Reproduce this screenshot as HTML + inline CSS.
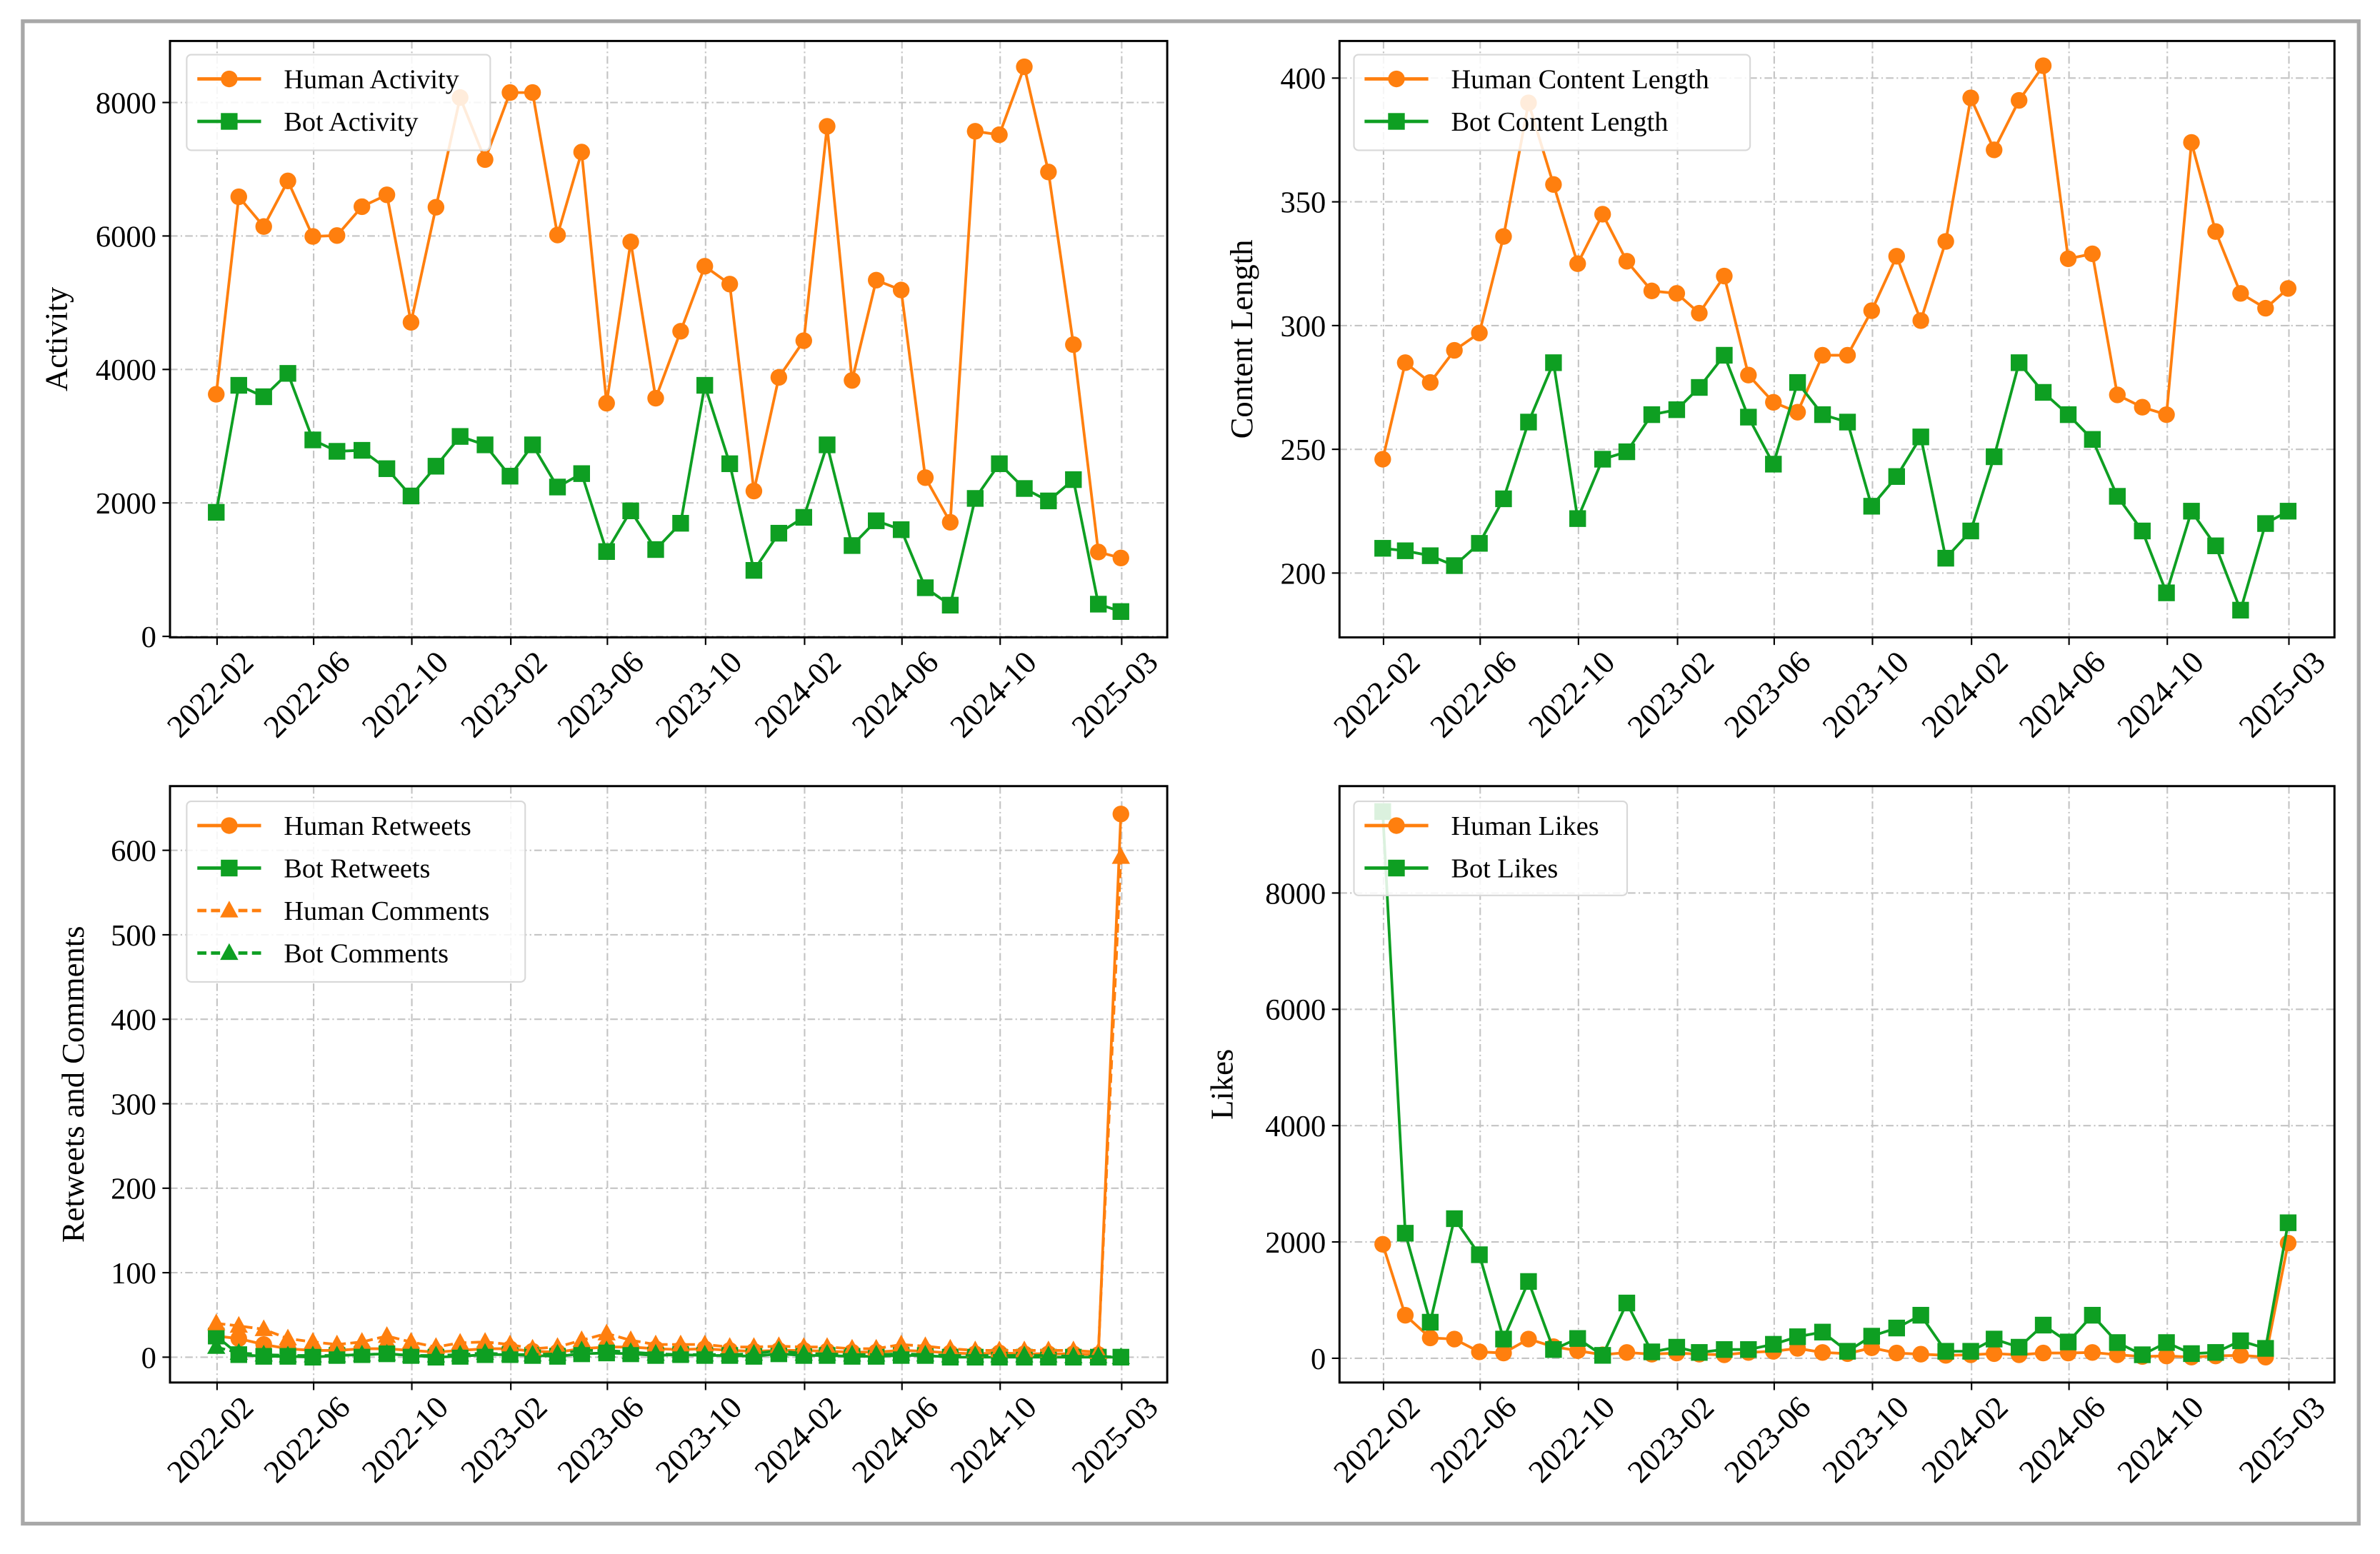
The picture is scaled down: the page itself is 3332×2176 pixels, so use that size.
<!DOCTYPE html>
<html><head><meta charset="utf-8"><style>
html,body{margin:0;padding:0;background:#fff;}
svg{display:block;font-family:"Liberation Serif",serif;}
</style></head><body>
<svg id="fig" width="3332" height="2176" viewBox="0 0 1568 1024" xmlns="http://www.w3.org/2000/svg">
<rect x="0" y="0" width="1568" height="1024" fill="#fff"/>
<rect x="15" y="14" width="1539" height="990" fill="none" stroke="#a8a8a8" stroke-width="2.5"/>
</svg>
<script>
const tickLabels=["2022-02","2022-06","2022-10","2023-02","2023-06","2023-10","2024-02","2024-06","2024-10","2025-03"];
const humanActivity=[3628,6587,6141,6825,5993,6007,6439,6617,4706,6431,8074,7145,8149,8149,6015,7257,3494,5911,3569,4572,5546,5279,2178,3881,4431,7643,3836,5338,5190,2379,1710,7569,7517,8535,6959,4372,1264,1175];
const botActivity=[1859,3762,3591,3941,2944,2773,2788,2513,2104,2550,2996,2870,2401,2870,2238,2439,1271,1881,1301,1695,3762,2587,989,1546,1784,2870,1361,1732,1599,729,468,2067,2587,2216,2030,2349,483,372];
const humanContent=[246,285,277,290,297,336,390,357,325,345,326,314,313,305,320,280,269,265,288,288,306,328,302,334,392,371,391,405,327,329,272,267,264,374,338,313,307,315];
const botContent=[210,209,207,203,212,230,261,285,222,246,249,264,266,275,288,263,244,277,264,261,227,239,255,206,217,247,285,273,264,254,231,217,192,225,211,185,220,225];
const humanRetweets=[25,22,15,10,8,8,10,10,8,6,8,10,10,7,6,10,12,12,10,9,10,8,7,8,8,7,6,6,8,7,5,4,5,4,4,4,3,643];
const botRetweets=[25,3,1,1,0,2,3,4,2,0,1,3,3,2,1,4,5,4,2,3,2,2,1,4,2,2,1,1,2,2,0,0,0,0,0,0,0,0];
const humanComments=[40,37,33,22,18,15,18,25,18,12,17,18,15,10,12,20,28,20,15,15,15,12,12,13,12,12,10,10,15,13,10,8,8,8,8,8,6,592];
const botComments=[12,5,3,2,2,2,3,4,2,2,3,5,3,3,4,8,8,6,4,3,3,3,4,8,4,4,3,3,4,3,2,2,2,2,2,1,1,0];
const humanLikes=[1960,740,350,330,110,90,330,200,130,60,100,70,90,70,60,100,120,170,100,80,180,90,70,50,60,80,60,90,90,100,60,30,40,20,40,50,20,1980];
const botLikes=[9400,2150,620,2400,1780,330,1320,150,340,50,950,110,190,100,150,150,240,370,450,120,380,520,740,120,120,330,190,570,280,740,270,60,270,80,100,300,170,2330];

const NS="http://www.w3.org/2000/svg";
const svg=document.getElementById('fig');
const OR="#ff7f0e", GR="#0e9f22";
function el(tag,attrs,parent){const e=document.createElementNS(NS,tag);for(const k in attrs)e.setAttribute(k,attrs[k]);(parent||svg).appendChild(e);return e;}
const D0=Date.UTC(2022,1,1), D1=Date.UTC(2025,2,1);
function tickDate(lbl){const [y,m]=lbl.split('-').map(Number);return Date.UTC(y,m-1,1);}
function pointDate(i){return Date.UTC(2022,1+i,0);}

function panel(cfg){
  const g=el('g',{});
  
  
  const xs=t=>cfg.tx0+(t-D0)/(D1-D0)*(cfg.tx1-cfg.tx0);
  const ys=v=>cfg.y1-(v-cfg.ymin)/(cfg.ymax-cfg.ymin)*(cfg.y1-cfg.y0);
  tickLabels.forEach(l=>{const x=xs(tickDate(l));
    const gl=el('line',{x1:x,x2:x,y1:cfg.y0,y2:cfg.y1,stroke:"#c4c4c4","stroke-width":1,"stroke-dasharray":"5 2 1 2"},g);
    });
  cfg.yticks.forEach(v=>{const y=ys(v);
    const gl=el('line',{x1:cfg.x0,x2:cfg.x1,y1:y,y2:y,stroke:"#c4c4c4","stroke-width":1,"stroke-dasharray":"5 2 1 2"},g);
    });
  cfg.series.forEach(s=>{
    const pts=s.data.map((v,i)=>[xs(pointDate(i)),ys(v)]);
    const pl=el('polyline',{points:pts.map(p=>p.join(',')).join(' '),fill:"none",stroke:s.color,"stroke-width":1.8,"stroke-dasharray":s.dash?"6 3":"none"},g);
    
    pts.forEach(p=>{const m=marker(s.marker,p[0],p[1],s.color,g);
      });
  });
  const fr=el('rect',{x:cfg.x0,y:cfg.y0,width:cfg.x1-cfg.x0,height:cfg.y1-cfg.y0,fill:"none",stroke:"#000","stroke-width":1.4},g);
  
  tickLabels.forEach(l=>{const x=xs(tickDate(l));
    el('line',{x1:x,x2:x,y1:cfg.y1,y2:cfg.y1+5,stroke:"#000","stroke-width":1},g);
    const cx=x-3, cy=cfg.y1+39;
    const t=el('text',{x:cx,y:cy,"font-size":21,"text-anchor":"middle","dominant-baseline":"middle",transform:`rotate(-45 ${cx} ${cy})`},g);
    t.textContent=l;});
  cfg.yticks.forEach(v=>{const y=ys(v);
    el('line',{x1:cfg.x0-5,x2:cfg.x0,y1:y,y2:y,stroke:"#000","stroke-width":1},g);
    const t=el('text',{x:cfg.x0-9,y:y+7,"font-size":20,"text-anchor":"end"},g);
    t.textContent=v;});
  const yl=el('text',{x:cfg.ylx,y:(cfg.y0+cfg.y1)/2,"font-size":21,"text-anchor":"middle",transform:`rotate(-90 ${cfg.ylx} ${(cfg.y0+cfg.y1)/2})`},g);
  yl.textContent=cfg.ylabel;
  const L=cfg.legend;
  const lg=el('g',{},g);
  el('rect',{x:L.x,y:L.y,width:L.w,height:L.h,rx:3,fill:"#fff","fill-opacity":0.85,stroke:"#d8d8d8","stroke-width":1},lg);
  cfg.series.forEach((s,i)=>{const y=L.y+16+i*28;
    const e=el('g',{},lg);
    el('line',{x1:L.x+7,x2:L.x+49,y1:y,y2:y,stroke:s.color,"stroke-width":2.2,"stroke-dasharray":s.dash?"6 3":"none"},e);
    marker(s.marker,L.x+28,y,s.color,e);
    const t=el('text',{x:L.x+64,y:y+6,"font-size":18},e);t.textContent=s.label;});
}
function marker(type,x,y,c,p){
  if(type==='o')return el('circle',{cx:x,cy:y,r:5.5,fill:c},p);
  if(type==='s')return el('rect',{x:x-5.5,y:y-5.5,width:11,height:11,fill:c},p);
  return el('polygon',{points:`${x},${y-6.5} ${x-6},${y+4.5} ${x+6},${y+4.5}`,fill:c},p);
}
panel({name:'activity-panel',x0:112,x1:769,y0:27,y1:420,tx0:143,tx1:739,ymin:-15,ymax:8922,yticks:[0,2000,4000,6000,8000],ylabel:'Activity',ylx:44,
  legend:{x:123,y:36,w:200,h:63},
  series:[{key:'human-activity',label:'Human Activity',data:humanActivity,color:OR,marker:'o'},{key:'bot-activity',label:'Bot Activity',data:botActivity,color:GR,marker:'s'}]});
panel({name:'content-length-panel',x0:882.5,x1:1538,y0:27,y1:420,tx0:911.5,tx1:1508,ymin:174,ymax:415,yticks:[200,250,300,350,400],ylabel:'Content Length',ylx:825,
  legend:{x:892,y:36,w:261,h:63},
  series:[{key:'human-content-length',label:'Human Content Length',data:humanContent,color:OR,marker:'o'},{key:'bot-content-length',label:'Bot Content Length',data:botContent,color:GR,marker:'s'}]});
panel({name:'retweets-comments-panel',x0:112,x1:769,y0:518,y1:911,tx0:143,tx1:739,ymin:-30,ymax:676,yticks:[0,100,200,300,400,500,600],ylabel:'Retweets and Comments',ylx:55,
  legend:{x:123,y:528,w:223,h:119},
  series:[{key:'human-retweets',label:'Human Retweets',data:humanRetweets,color:OR,marker:'o'},{key:'bot-retweets',label:'Bot Retweets',data:botRetweets,color:GR,marker:'s'},
          {key:'human-comments',label:'Human Comments',data:humanComments,color:OR,marker:'^',dash:true},{key:'bot-comments',label:'Bot Comments',data:botComments,color:GR,marker:'^',dash:true}]});
panel({name:'likes-panel',x0:882.5,x1:1538,y0:518,y1:911,tx0:911.5,tx1:1508,ymin:-417,ymax:9838,yticks:[0,2000,4000,6000,8000],ylabel:'Likes',ylx:812,
  legend:{x:892,y:528,w:180,h:62},
  series:[{key:'human-likes',label:'Human Likes',data:humanLikes,color:OR,marker:'o'},{key:'bot-likes',label:'Bot Likes',data:botLikes,color:GR,marker:'s'}]});
</script>
</body></html>
